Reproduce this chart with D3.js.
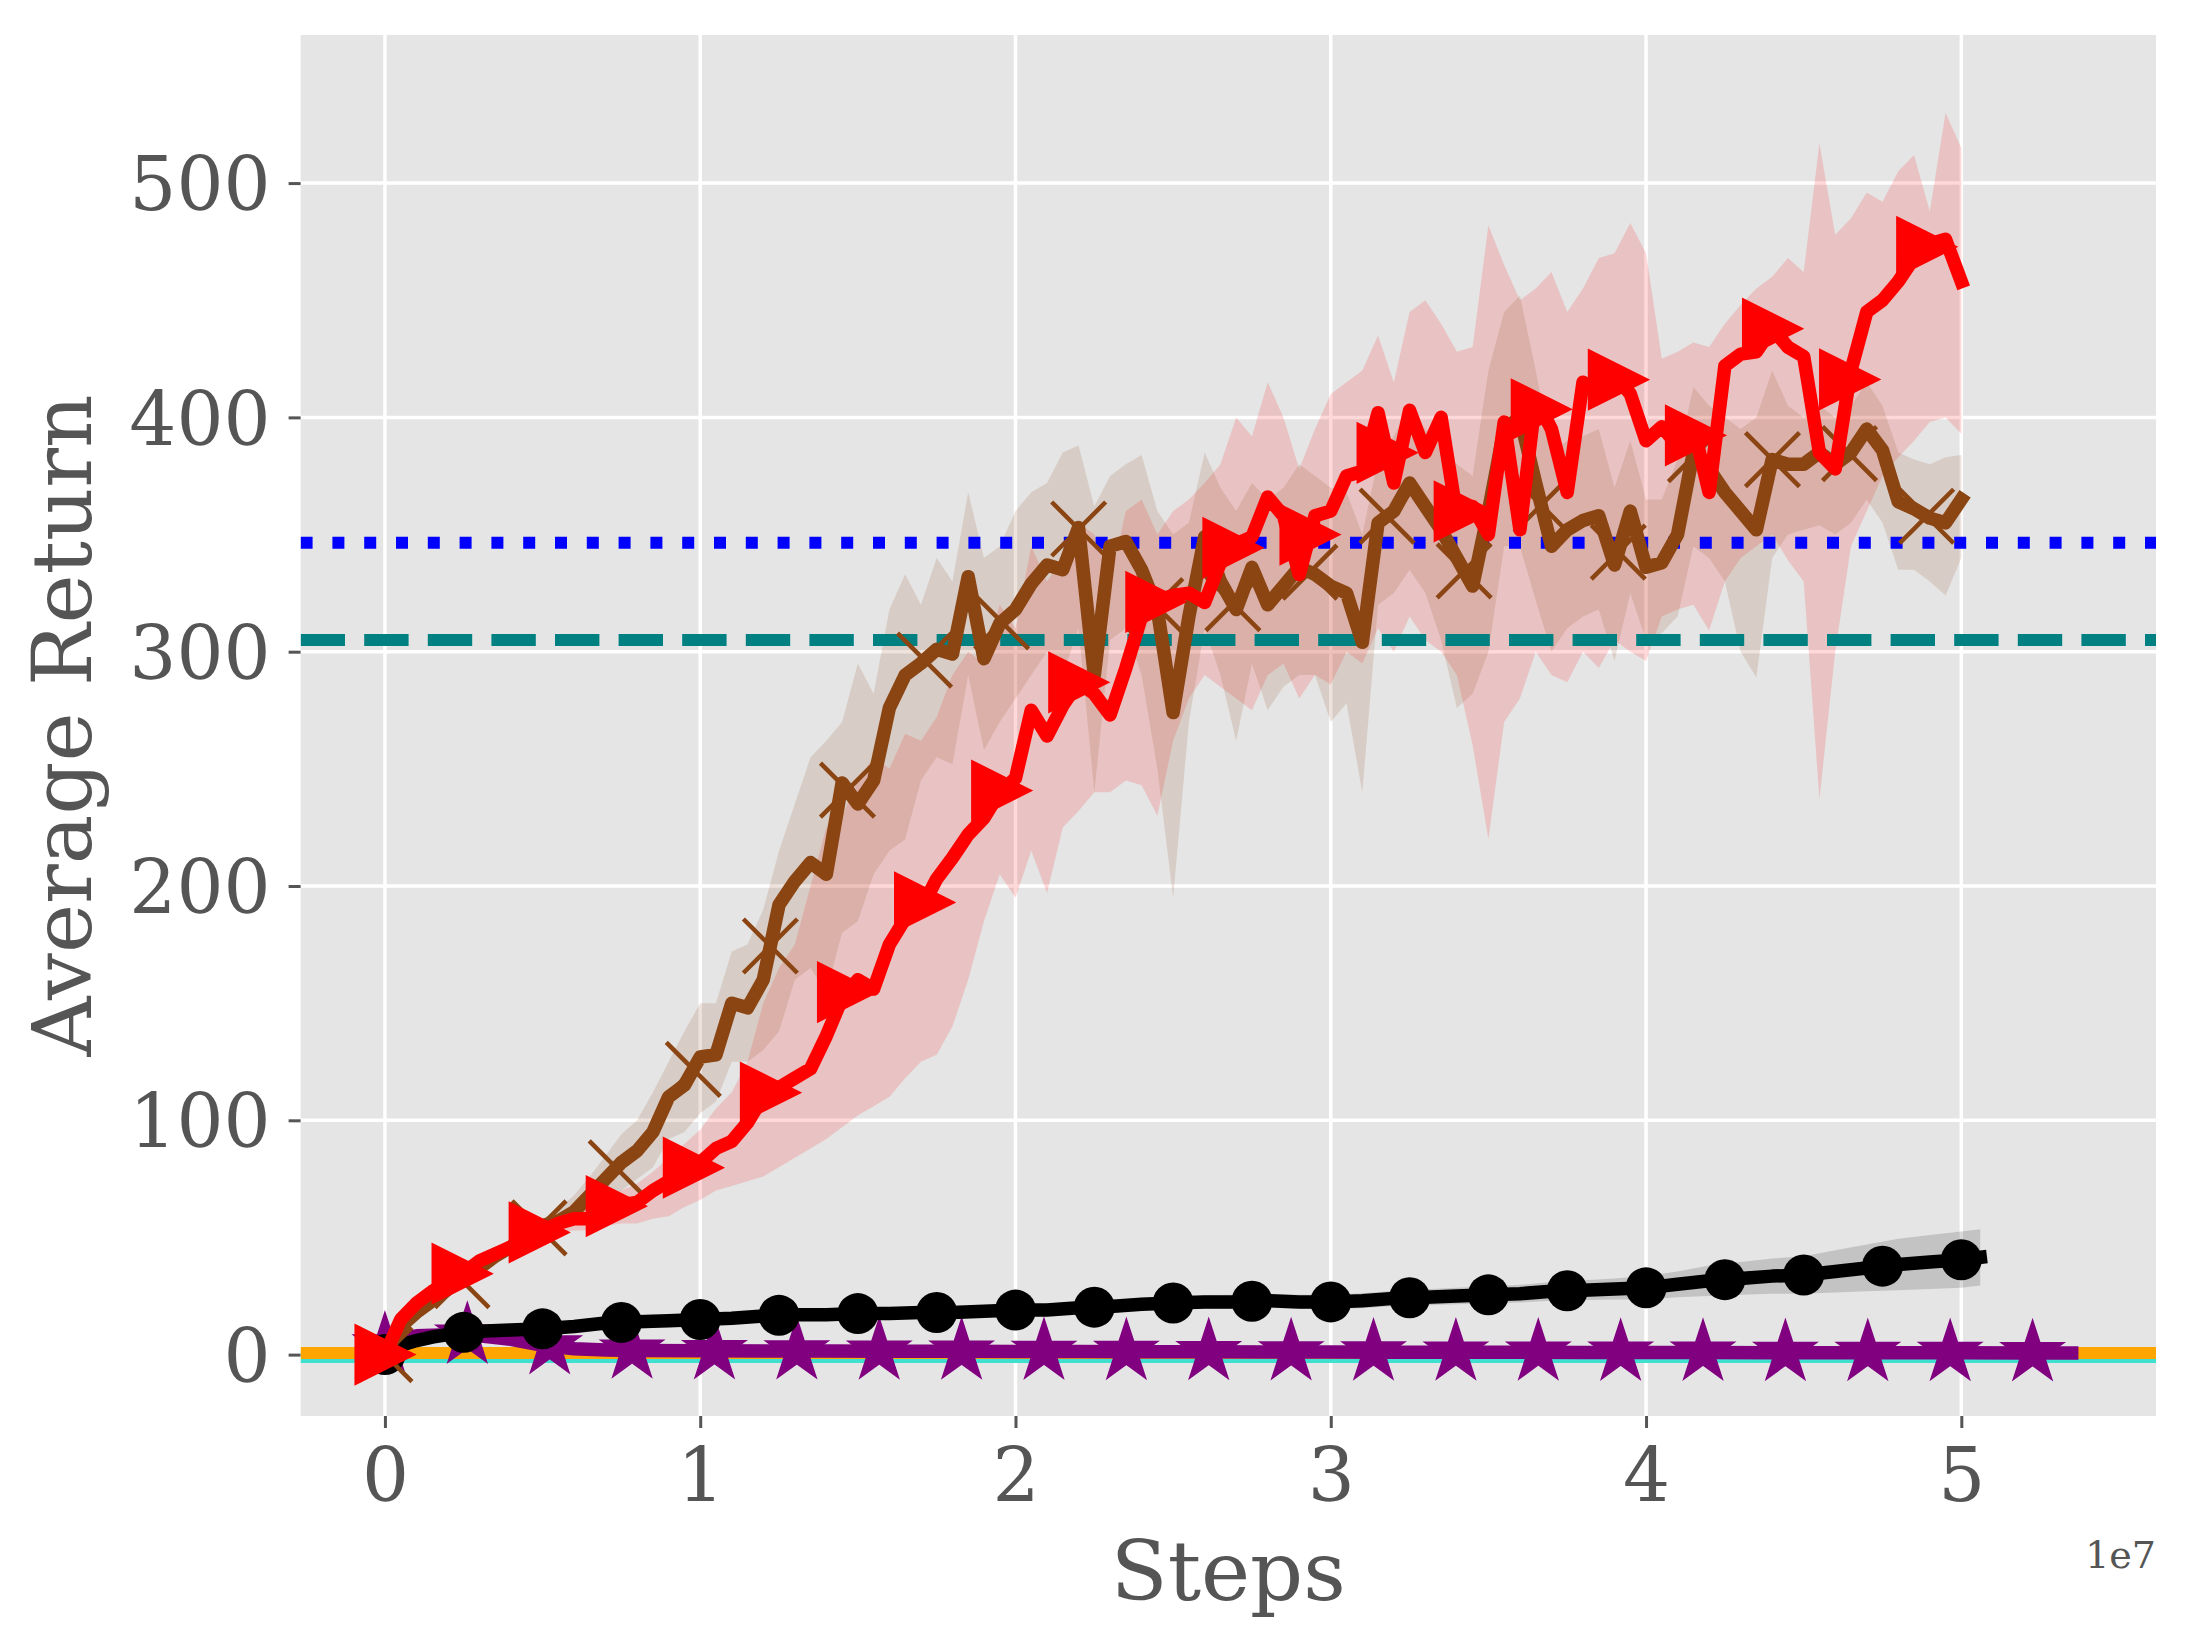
<!DOCTYPE html>
<html>
<head>
<meta charset="utf-8">
<script src="https://cdn.jsdelivr.net/npm/d3@7"></script>
<style>
  body { margin: 0; background: #fff; }
  svg { display: block; }
</style>
</head>
<body>
<svg id="chart" width="2192" height="1648"></svg>
<script>
// ---- data (steps in millions, returns) ----
// red / brown runs are logged every 0.5M steps, 0 .. 50M
const gridM = d3.range(101).map(i => i * 0.5);

const redMean = [
  0, 15, 22, 27, 31, 35, 40, 43, 46, 49,
  53, 56, 58, 58, 62, 64, 65, 70, 74, 77,
  82, 88, 91, 99, 110, 114, 118, 122, 136, 152,
  160, 156, 175, 186, 190, 203, 212, 222, 229, 240,
  246, 275, 264, 277, 287, 282, 273, 293, 315, 322,
  324, 325, 321, 338, 346, 349, 366, 358, 333, 358,
  360, 375, 377, 402, 372, 403, 385, 400, 358, 362,
  350, 398, 352, 408, 395, 368, 415, 410, 418, 410,
  390, 396, 388, 396, 368, 422, 427, 428, 438, 430,
  426, 385, 378, 420, 445, 450, 458, 468, 474, 476,
  458
];
const redHigh = [
  2, 17, 24, 29, 33, 37, 42, 45, 48, 51,
  56, 59, 62, 63, 67, 70, 73, 78, 84, 90,
  96, 105, 112, 125, 150, 165, 175, 200, 225, 230,
  245, 255, 250, 265, 262, 272, 290, 300, 295, 320,
  310, 345, 330, 340, 355, 350, 330, 360, 365, 350,
  360, 365, 372, 380, 400, 392, 415, 400, 378, 395,
  410, 415, 420, 435, 415, 445, 450, 440, 428, 430,
  482, 465, 450, 455, 462, 445, 455, 468, 470, 483,
  470, 425, 428, 432, 430, 440, 448, 455, 460, 468,
  462, 517, 478, 485, 496, 492, 505, 512, 488, 530,
  515
];
const redLow = [
  -1, 13, 20, 25, 29, 33, 38, 41, 44, 47,
  50, 52, 53, 53, 55, 56, 56, 58, 59, 63,
  66, 70, 72, 74, 76, 80, 84, 88, 92, 97,
  102, 106, 110, 118, 125, 128, 140, 160, 185, 205,
  195, 215, 197, 225, 232, 240, 240, 245, 243, 230,
  262, 280, 290, 285, 280, 275, 290, 295, 280, 290,
  286, 300, 295, 310, 300, 315, 305, 300, 290, 260,
  220, 270, 280, 300, 290, 287, 300, 293, 305, 300,
  296, 315, 318, 320, 309, 330, 340, 345, 350, 339,
  330, 237, 300, 345, 360, 375, 383, 390, 398, 400,
  393
];

const brownMean = [
  0, 12, 18, 23, 28, 32, 37, 42, 46, 51,
  55, 57, 61, 68, 75, 82, 87, 95, 110, 115,
  127, 128, 150, 148, 160, 192, 202, 210, 205, 244,
  235, 245, 276, 290, 295, 301, 299, 332, 297, 312,
  318, 329, 337, 335, 353, 290, 345, 347, 335, 318,
  274, 315, 349, 330, 318, 336, 320, 328, 336, 333,
  328, 325, 304, 355, 360, 372, 362, 352, 340, 328,
  360, 395, 400, 372, 345, 352, 356, 358, 337, 360,
  336, 338, 350, 385, 378, 368, 360, 352, 382, 380,
  380, 385, 380, 385, 395, 386, 364, 361, 357, 355,
  365
];
const brownHigh = [
  2, 14, 20, 25, 30, 34, 39, 44, 49, 54,
  58, 62, 68, 76, 85, 94, 100, 112, 125, 138,
  150, 150, 172, 175, 190, 215, 235, 255, 262, 270,
  295, 282, 318, 333, 320, 340, 330, 368, 340, 345,
  360, 368, 372, 385, 388, 362, 375, 380, 384, 360,
  350, 355, 385, 370, 360, 372, 365, 370, 380, 375,
  370, 368, 350, 382, 392, 405, 395, 388, 380, 375,
  420, 445, 452, 420, 385, 390, 392, 395, 370, 390,
  365, 365, 382, 413, 405, 400, 395, 400, 420, 405,
  400, 405, 400, 405, 415, 405, 385, 382, 380, 383,
  384
];
const brownLow = [
  -1, 10, 16, 21, 26, 30, 35, 40, 43, 48,
  52, 53, 55, 60, 65, 70, 75, 80, 92, 95,
  103, 108, 125, 125, 130, 138, 160, 165, 155, 180,
  185, 205, 215, 220, 245, 255, 252, 290, 258, 270,
  280, 290, 300, 290, 310, 240, 305, 310, 290, 250,
  195, 270, 310, 290, 262, 295, 275, 285, 290, 290,
  270, 278, 240, 320, 325, 335, 325, 305, 276, 282,
  300, 345, 345, 322, 300, 310, 315, 318, 296, 325,
  305, 308, 315, 345, 340, 330, 300, 289, 340, 350,
  352, 354, 350, 355, 365, 355, 335, 335, 330, 324,
  340
];

const blackStepsM = [0, 0.5, 1, 1.5, 2, 2.5, 3, 4, 5, 6, 7, 8, 9, 10, 11, 12, 13, 14, 15, 16,
  17, 18, 19, 20, 21, 22, 23, 24, 25, 26, 27, 28, 29, 30, 31, 32, 33, 34, 35, 36,
  37, 38, 39, 40, 41, 42, 43, 44, 45, 46, 47, 48, 49, 50, 50.6];
const blackMean = [0, 4, 6, 7.5, 8.5, 9.5, 10, 10.5, 11, 12, 13.5, 14, 14.5, 15, 15.5, 16.5, 17, 17, 17.5, 17.5,
  18, 18, 18.5, 19, 19, 20, 20.5, 21.5, 22, 22.5, 22.5, 23, 22.5, 22.5, 23, 24, 24.5, 25, 25.5, 26,
  27, 27.5, 28, 28.5, 30, 31.5, 32.5, 33.5, 34, 35.5, 37, 38.5, 39.5, 40.5, 41.5];
const blackHigh = [0.5, 5, 7, 8.5, 9.7, 10.7, 11.3, 12, 12.5, 13.8, 15.5, 16, 16.5, 17, 17.5, 18.5, 19.2, 19.2, 19.8, 19.8,
  20.4, 20.4, 21, 21.5, 21.6, 22.6, 23.2, 24.3, 24.8, 25.4, 25.5, 26, 25.5, 25.5, 26.2, 27.3, 27.9, 28.5, 29.1, 29.8,
  31, 31.7, 32.5, 33.5, 35.5, 38, 39.5, 41, 42, 44.5, 47, 49.5, 51, 52.5, 53.5];
const blackLow = [-0.5, 3, 5, 6.5, 7.3, 8.3, 8.7, 9, 9.5, 10.2, 11.5, 12, 12.5, 13, 13.5, 14.5, 14.8, 14.8, 15.2, 15.2,
  15.6, 15.6, 16, 16.5, 16.4, 17.4, 17.8, 18.7, 19.2, 19.6, 19.5, 20, 19.5, 19.5, 19.8, 20.7, 21.1, 21.5, 21.9, 22.2,
  23, 23.3, 23.5, 23.5, 24.5, 25, 25.5, 26, 26, 26.5, 27, 27.5, 28, 28.5, 29.5];

const purpleStepsM = [0, 0.5, 1, 2, 3, 4, 5, 6, 7, 8, 10, 12, 14, 16, 18, 20, 22, 24, 26, 28,
  30, 32, 34, 36, 38, 40, 42, 44, 46, 48, 50, 52, 53.5];
const purpleMean = [4, 7, 8, 8.5, 8, 6.5, 4, 2.5, 2, 1.8, 1.6, 1.5, 1.5, 1.4, 1.4, 1.3, 1.3, 1.2, 1.2, 1.1,
  1.1, 1.0, 1.0, 1.0, 0.9, 0.9, 0.9, 0.8, 0.8, 0.8, 0.8, 0.7, 0.7];

// horizontal reference levels
const refOrange = 0.7;
const refCyan = -1.0;
const refBlue = 346.5;
const refTeal = 305;

// marker spacing (millions of steps)
const markEveryRed = 2.445;
const markEveryBlack = 2.5;
const markEveryPurple = 2.613;

const xTicks = [0, 1, 2, 3, 4, 5];          // in units of 1e7
const xTickLabels = ["0", "1", "2", "3", "4", "5"];
const yTicks = [0, 100, 200, 300, 400, 500];
const yTickLabels = ["0", "100", "200", "300", "400", "500"];

// ---- layout ----
const svg = d3.select("#chart");
const plot = { left: 300.6, right: 2156, top: 35, bottom: 1416 };
const font = "DejaVu Serif, Liberation Serif, serif";
const textGrey = "#555555";

const xMaxData = d3.max(purpleStepsM) * 1e6;
const xPad = 0.05 * xMaxData;
const x = d3.scaleLinear().domain([-xPad, xMaxData + xPad]).range([plot.left, plot.right]);
const y = d3.scaleLinear().domain([-26.2, 563.2]).range([plot.bottom, plot.top]);

svg.append("rect").attr("width", 2192).attr("height", 1648).attr("fill", "#fff");
svg.append("rect")
  .attr("x", plot.left).attr("y", plot.top)
  .attr("width", plot.right - plot.left).attr("height", plot.bottom - plot.top)
  .attr("fill", "#E5E5E5");

svg.append("clipPath").attr("id", "clip")
  .append("rect")
  .attr("x", plot.left).attr("y", plot.top)
  .attr("width", plot.right - plot.left).attr("height", plot.bottom - plot.top);

// grid
const grid = svg.append("g");
grid.selectAll(".gx").data(xTicks).join("line")
  .attr("x1", d => x(d * 1e7)).attr("x2", d => x(d * 1e7))
  .attr("y1", plot.top).attr("y2", plot.bottom)
  .attr("stroke", "#fff").attr("stroke-width", 3.5);
grid.selectAll(".gy").data(yTicks).join("line")
  .attr("x1", plot.left).attr("x2", plot.right)
  .attr("y1", d => y(d)).attr("y2", d => y(d))
  .attr("stroke", "#fff").attr("stroke-width", 3.5);

// axes (ggplot look: no spines, short grey ticks)
const xAxis = d3.axisBottom(x)
  .tickValues(xTicks.map(d => d * 1e7))
  .tickFormat((d, i) => xTickLabels[i])
  .tickSize(12).tickPadding(20);
const yAxis = d3.axisLeft(y)
  .tickValues(yTicks)
  .tickFormat((d, i) => yTickLabels[i])
  .tickSize(12).tickPadding(18);

const gx = svg.append("g").attr("transform", `translate(0,${plot.bottom})`).call(xAxis);
const gy = svg.append("g").attr("transform", `translate(${plot.left},0)`).call(yAxis);
[gx, gy].forEach(g => {
  g.select(".domain").remove();
  g.selectAll(".tick line").attr("stroke", textGrey).attr("stroke-width", 3);
  g.selectAll(".tick text")
    .attr("fill", textGrey)
    .style("font-family", font)
    .style("font-size", "74px");
});
gy.selectAll(".tick text").attr("dy", "0.36em");

svg.append("text")
  .attr("x", (plot.left + plot.right) / 2).attr("y", 1600)
  .attr("text-anchor", "middle")
  .attr("fill", textGrey)
  .style("font-family", font).style("font-size", "83px")
  .text("Steps");
svg.append("text")
  .attr("transform", `translate(91,${(plot.top + plot.bottom) / 2}) rotate(-90)`)
  .attr("text-anchor", "middle")
  .attr("fill", textGrey)
  .style("font-family", font).style("font-size", "83px")
  .text("Average Return");
svg.append("text")
  .attr("x", plot.right).attr("y", 1568)
  .attr("text-anchor", "end")
  .attr("fill", textGrey)
  .style("font-family", font).style("font-size", "38px")
  .text("1e7");

// ---- series ----
const body = svg.append("g").attr("clip-path", "url(#clip)");

function zipSeries(stepsM, vals) {
  return stepsM.map((s, i) => [s * 1e6, vals[i]]);
}
function zipBand(stepsM, lo, hi) {
  return stepsM.map((s, i) => [s * 1e6, lo[i], hi[i]]);
}
function valueAt(stepsM, vals, sM) {
  const i = d3.bisectRight(stepsM, sM);
  if (i <= 0) return vals[0];
  if (i >= stepsM.length) return vals[vals.length - 1];
  const t = (sM - stepsM[i - 1]) / (stepsM[i] - stepsM[i - 1]);
  return vals[i - 1] + t * (vals[i] - vals[i - 1]);
}
function markerPoints(stepsM, vals, every) {
  const last = stepsM[stepsM.length - 1];
  return d3.range(0, Math.floor(last / every) + 1)
    .map(k => [k * every * 1e6, valueAt(stepsM, vals, k * every)]);
}

const line = d3.line().x(d => x(d[0])).y(d => y(d[1]));
const area = d3.area().x(d => x(d[0])).y0(d => y(d[1])).y1(d => y(d[2]));

// bands
body.append("path").datum(zipBand(gridM, redLow, redHigh))
  .attr("d", area).attr("fill", "#FF0000").attr("fill-opacity", 0.15);
body.append("path").datum(zipBand(gridM, brownLow, brownHigh))
  .attr("d", area).attr("fill", "#8B4513").attr("fill-opacity", 0.15);
body.append("path").datum(zipBand(blackStepsM, blackLow, blackHigh))
  .attr("d", area).attr("fill", "#000000").attr("fill-opacity", 0.15);

// horizontal reference lines
function hline(v, color, width, dash) {
  body.append("line")
    .attr("x1", plot.left).attr("x2", plot.right)
    .attr("y1", y(v)).attr("y2", y(v))
    .attr("stroke", color).attr("stroke-width", width)
    .attr("stroke-dasharray", dash || null);
}
hline(refCyan, "#40E0D0", 12);
hline(refOrange, "#FFA500", 12);
hline(refBlue, "#0000FF", 12, "12 19.8");
hline(refTeal, "#008080", 12, "44.4 19.2");

function drawLine(data, color) {
  body.append("path").datum(data)
    .attr("d", line)
    .attr("fill", "none")
    .attr("stroke", color)
    .attr("stroke-width", 13.5)
    .attr("stroke-linejoin", "round")
    .attr("stroke-linecap", "square");
}

// purple with stars
drawLine(zipSeries(purpleStepsM, purpleMean), "#800080");
const starR = 32;
body.selectAll(".star").data(markerPoints(purpleStepsM, purpleMean, markEveryPurple)).join("path")
  .attr("transform", d => `translate(${x(d[0])},${y(d[1])})`)
  .attr("d", d3.symbol(d3.symbolStar, starR * starR / 0.8908130915292852)())
  .attr("fill", "#800080").attr("stroke", "#800080").attr("stroke-width", 2)
  .attr("stroke-linejoin", "miter");

// black with circles
drawLine(zipSeries(blackStepsM, blackMean), "#000000");
body.selectAll(".dot").data(markerPoints(blackStepsM, blackMean, markEveryBlack)).join("circle")
  .attr("cx", d => x(d[0])).attr("cy", d => y(d[1])).attr("r", 20.5)
  .attr("fill", "#000");

// brown with x markers
drawLine(zipSeries(gridM, brownMean), "#8B4513");
const xs = 27;
body.selectAll(".xm").data(markerPoints(gridM, brownMean, markEveryRed)).join("path")
  .attr("transform", d => `translate(${x(d[0])},${y(d[1])})`)
  .attr("d", `M${-xs},${-xs}L${xs},${xs}M${-xs},${xs}L${xs},${-xs}`)
  .attr("fill", "none").attr("stroke", "#8B4513").attr("stroke-width", 4.5);

// red with right-pointing triangles
drawLine(zipSeries(gridM, redMean), "#FF0000");
const ts = 29.5;
body.selectAll(".tri").data(markerPoints(gridM, redMean, markEveryRed)).join("path")
  .attr("transform", d => `translate(${x(d[0])},${y(d[1])})`)
  .attr("d", `M${ts},0L${-ts},${-ts}L${-ts},${ts}Z`)
  .attr("fill", "#FF0000").attr("stroke", "#FF0000").attr("stroke-width", 2)
  .attr("stroke-linejoin", "miter");
</script>
</body>
</html>
